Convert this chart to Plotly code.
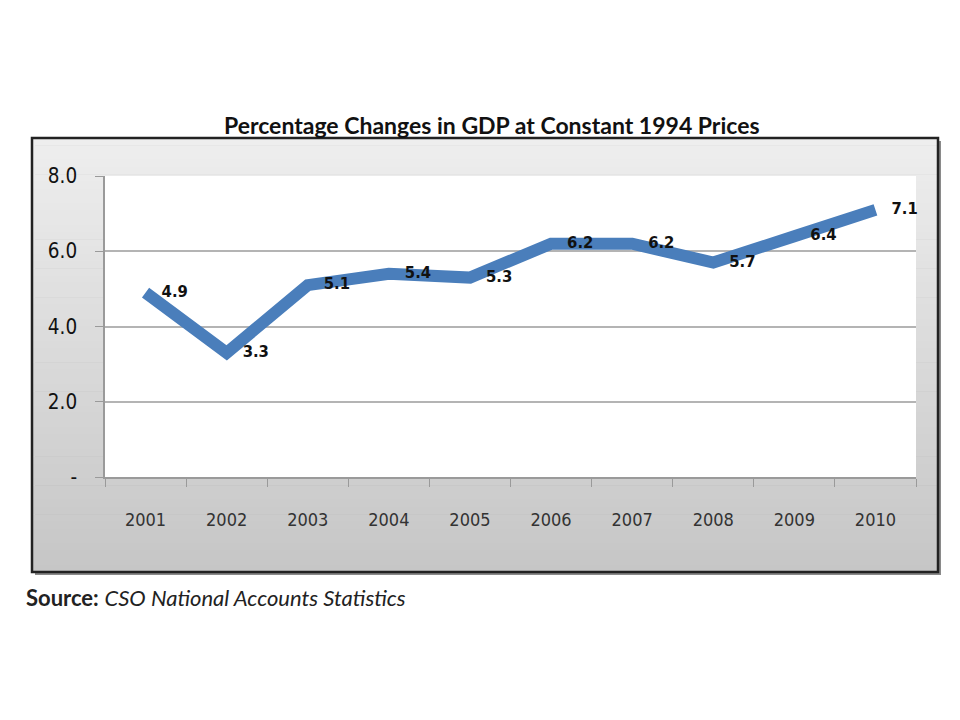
import plotly.graph_objects as go

years = ["2001", "2002", "2003", "2004", "2005", "2006", "2007", "2008", "2009", "2010"]
gdp_growth = [4.9, 3.3, 5.1, 5.4, 5.3, 6.2, 6.2, 5.7, 6.4, 7.1]
y_ticks = [0, 2, 4, 6, 8]
y_tick_text = ["-", "2.0", "4.0", "6.0", "8.0"]

W, H = 960, 720
OFF = 8  # page body margin shift
L, R, T, B = 105 - OFF, 916 - OFF, 176 - OFF, 477 - OFF
pw, ph = R - L, B - T

def px(x):
    return (x - OFF - L) / pw

def py(y):
    return (B - (y - OFF)) / ph

narrow = "DejaVu Sans Condensed, Liberation Sans Narrow, Arial Narrow, sans-serif"

fig = go.Figure()
fig.add_trace(go.Scatter(
    x=years, y=gdp_growth,
    mode="lines+markers+text",
    line=dict(color="#4A7EBB", width=12),
    marker=dict(color="rgba(0,0,0,0)", size=24),
    text=[f"{v:.1f}" for v in gdp_growth],
    textposition="middle right",
    textfont=dict(family=narrow, size=16.5, color="#111111", weight="bold"),
    cliponaxis=False,
    hoverinfo="skip",
))

shapes = []
bx0, bx1, by0, by1 = 32, 938, 138, 572
shapes.append(dict(type="rect", xref="paper", yref="paper",
                   x0=px(bx0 + 3), x1=px(bx1 + 3), y0=py(by1 + 3), y1=py(by0 + 3),
                   fillcolor="#8a8a8a", line=dict(width=0), layer="below"))
n = 60
top_c = (238, 238, 238)
bot_c = (198, 198, 198)
for i in range(n):
    t = i / (n - 1)
    c = tuple(int(round(top_c[k] + (bot_c[k] - top_c[k]) * t)) for k in range(3))
    ya = by0 + (by1 - by0) * i / n
    yb = by0 + (by1 - by0) * (i + 1) / n + 0.6
    shapes.append(dict(type="rect", xref="paper", yref="paper",
                       x0=px(bx0), x1=px(bx1), y0=py(yb), y1=py(ya),
                       fillcolor="rgb(%d,%d,%d)" % c, line=dict(width=0), layer="below"))
shapes.append(dict(type="rect", xref="paper", yref="paper",
                   x0=px(bx0), x1=px(bx1), y0=py(by1), y1=py(by0),
                   fillcolor="rgba(0,0,0,0)", line=dict(width=2.5, color="#222222"), layer="below"))
shapes.append(dict(type="rect", xref="paper", yref="paper",
                   x0=0, x1=1, y0=0, y1=1,
                   fillcolor="white", line=dict(width=0), layer="below"))

fig.update_layout(
    width=W, height=H,
    margin=dict(l=L, r=W - R, t=T, b=H - B),
    paper_bgcolor="white",
    plot_bgcolor="white",
    showlegend=False,
    shapes=shapes,
    xaxis=dict(
        type="category", range=[-0.5, 9.5],
        tickson="boundaries", ticks="outside", ticklen=8, tickcolor="#9a9a9a", tickwidth=1.2,
        showgrid=False, showline=True, linecolor="#9a9a9a", linewidth=1.5,
        tickfont=dict(family=narrow, size=18, color="#333333"),
        ticklabelstandoff=26, fixedrange=True,
    ),
    yaxis=dict(
        range=[0, 8], tickvals=y_ticks, ticktext=y_tick_text,
        ticks="outside", ticklen=8, tickcolor="#9a9a9a", tickwidth=1.2,
        showgrid=True, gridcolor="#b4b4b4", gridwidth=1.5,
        showline=True, linecolor="#9a9a9a", linewidth=1.5,
        zeroline=False,
        tickfont=dict(family=narrow, size=20.5, color="#111111"),
        ticklabelstandoff=14, fixedrange=True,
    ),
    annotations=[
        dict(text="<b>Percentage Changes in GDP at Constant 1994 Prices</b>",
             xref="paper", yref="paper", x=px(492), y=py(125),
             xanchor="center", yanchor="middle", showarrow=False,
             font=dict(family="Lato, Open Sans, sans-serif", size=23, color="#111111")),
        dict(text="<b>Source:</b> <i>CSO National Accounts Statistics</i>",
             xref="paper", yref="paper", x=px(24), y=py(597),
             xanchor="left", yanchor="middle", showarrow=False,
             font=dict(family="Lato, Open Sans, sans-serif", size=22, color="#222222")),
    ],
)

fig.write_html("out.html")
